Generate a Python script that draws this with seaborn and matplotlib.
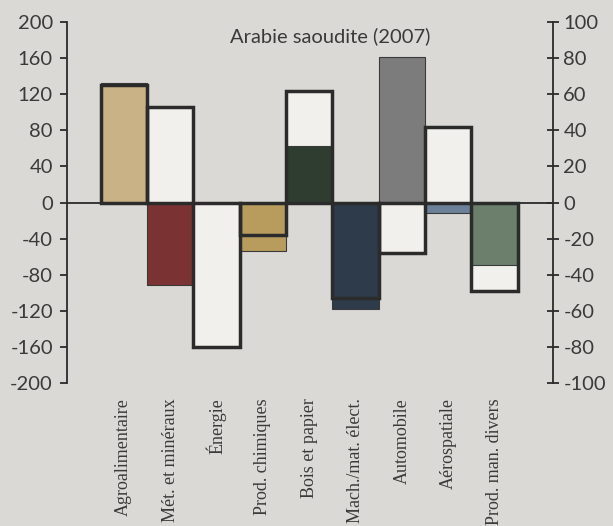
import matplotlib
matplotlib.use("Agg")
import matplotlib.pyplot as plt
import seaborn as sns

# Data
categories = ["Agroalimentaire", "Mét. et minéraux", "Énergie", "Prod. chimiques",
              "Bois et papier", "Mach./mat. élect.", "Automobile", "Aérospatiale",
              "Prod. man. divers"]
# filled bars, left axis
left_values = [132, -91, 0, -54, 63, -118, 161, -12, -69]
# outlined bars, right axis
right_values = [65, 53, -80, -18, 62, -53, -28, 42, -49]
bar_colors = ["#c9b286", "#7b3232", "#b59a5c", "#b89c5e", "#2f3d31", "#2d3b4a",
              "#7c7c7c", "#6c8199", "#6b7f6c"]
left_ticks = [200, 160, 120, 80, 40, 0, -40, -80, -120, -160, -200]
right_ticks = [100, 80, 60, 40, 20, 0, -20, -40, -60, -80, -100]
title = "Arabie saoudite (2007)"

bg = "#dad9d5"
ink = "#2b2b2b"

sns.set_style("white")
plt.rcParams["font.family"] = ["Lato", "DejaVu Sans"]

fig = plt.figure(figsize=(6.13, 5.26), dpi=100, facecolor=bg)
ax_fill = fig.add_axes([0.109, 0.272, 0.793, 0.686])   # left axis, filled bars
ax_white = ax_fill.twinx()                             # right scale, white boxes
ax_edge = ax_fill.twinx()                              # right scale, box edges

ax_white.set_zorder(1)
ax_fill.set_zorder(2)
ax_edge.set_zorder(3)
for a in (ax_fill, ax_edge):
    a.patch.set_visible(False)
ax_white.patch.set_facecolor(bg)

# white boxes behind the coloured bars
sns.barplot(x=categories, y=right_values, color="#f1f0ec", saturation=1,
            width=1.0, linewidth=0, ax=ax_white)
# coloured bars
sns.barplot(x=categories, y=left_values, hue=categories, palette=bar_colors,
            saturation=1, width=1.0, legend=False, linewidth=0.8,
            edgecolor="#3a3a3a", ax=ax_fill)
# box outlines on top
sns.barplot(x=categories, y=right_values, color="white", saturation=1,
            width=1.0, fill=False, linewidth=2.5, edgecolor=ink, ax=ax_edge)

ax_fill.axhline(0, color=ink, lw=1.3, zorder=5)

for a in (ax_fill, ax_white, ax_edge):
    a.set_xlim(-1.23, 9.26)
for a in (ax_white, ax_edge):
    a.set_ylim(-100, 100)
ax_fill.set_ylim(-200, 200)

# right axis
ax_white.set_yticks(right_ticks)
ax_white.set_yticklabels([str(t) for t in right_ticks])
ax_white.tick_params(axis="y", direction="inout", length=9, width=1.3, color=ink,
                     labelsize=14.5, labelcolor="#3a3a3a", pad=3, right=True)
ax_white.set_ylabel("")
ax_edge.set_yticks([])
ax_edge.set_ylabel("")
for a in (ax_white, ax_edge):
    a.tick_params(axis="x", bottom=False, labelbottom=False)

# left axis
ax_fill.set_yticks(left_ticks)
ax_fill.set_yticklabels([str(t) for t in left_ticks])
ax_fill.tick_params(axis="y", direction="out", length=5, width=1.3, color=ink,
                    labelsize=14.5, labelcolor="#3a3a3a", pad=5, left=True)
ax_fill.set_xticks(range(len(categories)))
ax_fill.set_xticklabels(categories, rotation=90, ha="center", va="top",
                        family=["Liberation Serif", "DejaVu Serif"],
                        fontsize=13, color="#3a3a3a")
ax_fill.tick_params(axis="x", length=0, pad=11, bottom=True, labelbottom=True)
ax_fill.set_xlabel("")
ax_fill.set_ylabel("")

for a in (ax_fill, ax_white, ax_edge):
    for s in a.spines.values():
        s.set_visible(False)
ax_fill.spines["left"].set_visible(True)
ax_fill.spines["left"].set_color(ink)
ax_fill.spines["left"].set_linewidth(1.3)
ax_white.spines["right"].set_visible(True)
ax_white.spines["right"].set_color(ink)
ax_white.spines["right"].set_linewidth(1.3)

ax_fill.text(4.45, 184, title, ha="center", va="center", fontsize=14.5,
             color="#3a3a3a", zorder=6)

fig.savefig("out.png", dpi=100, facecolor=bg)
